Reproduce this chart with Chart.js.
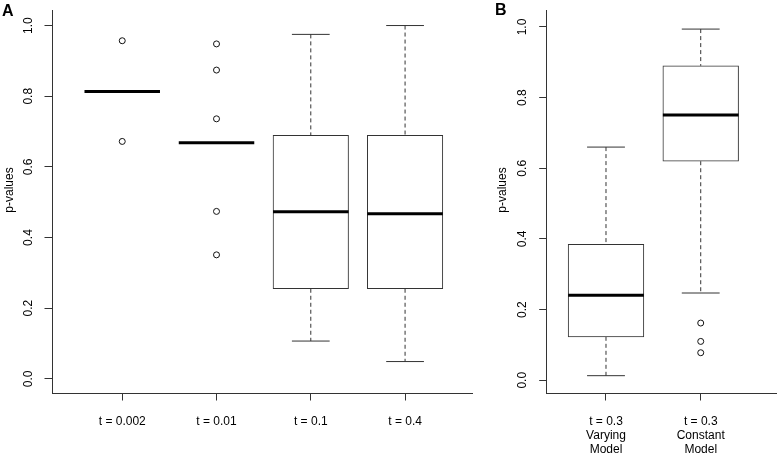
<!DOCTYPE html>
<html>
<head>
<meta charset="utf-8">
<script src="https://cdn.jsdelivr.net/npm/chart.js@4/dist/chart.umd.min.js"></script>
<style>
  body { margin: 0; background: #fff; }
  canvas { position: absolute; top: 0; }
  #chartA { left: 0; }
  #chartB { left: 480px; }
</style>
</head>
<body>
<canvas id="chartA" width="485" height="455"></canvas>
<canvas id="chartB" width="297" height="455"></canvas>
<script>

// panel A
let labelsA = ['t = 0.002', 't = 0.01', 't = 0.1', 't = 0.4']
let lowA = [0.813, 0.668, 0.107, 0.049]
let q1A = [0.813, 0.668, 0.255, 0.255]
let medA = [0.813, 0.668, 0.473, 0.467]
let q3A = [0.813, 0.668, 0.689, 0.689]
let highA = [0.813, 0.668, 0.975, 1.0]
let outA = [[0.957, 0.672], [0.948, 0.874, 0.736, 0.474, 0.351], [], []]

// panel B
let labelsB = [['t = 0.3', 'Varying', 'Model'], ['t = 0.3', 'Constant', 'Model']]
let lowB = [0.013, 0.247]
let q1B = [0.123, 0.620]
let medB = [0.241, 0.751]
let q3B = [0.385, 0.890]
let highB = [0.660, 0.994]
let outB = [[], [0.162, 0.110, 0.078]]

let yTicks = [0, 0.2, 0.4, 0.6, 0.8, 1.0]

let fontFam = '"Liberation Sans", Arial, Helvetica, sans-serif'
let lineCol = '#333'

// letter + y title
let extraText = {
    id: 'extraText',
    afterDraw: function (chart) {
        let o = chart.options.plugins.extraText
        let ctx = chart.ctx
        ctx.save()
        ctx.fillStyle = '#000'
        ctx.font = 'bold 16px ' + fontFam
        ctx.textAlign = 'left'
        ctx.textBaseline = 'alphabetic'
        ctx.fillText(o.letter, o.letterX, o.letterY)
        ctx.font = '12px ' + fontFam
        ctx.translate(o.titleX, 190)
        ctx.rotate(-Math.PI / 2)
        ctx.textAlign = 'center'
        ctx.textBaseline = 'middle'
        ctx.fillText('p-values', 0, 0)
        ctx.restore()
    }
}

function buildBox (id, labels, low, q1, med, q3, high, outl, opt) {

    let xs = labels.map(function (l, i) { return i + 1 })

    let whisk = []
    let outPts = []
    xs.forEach(function (x, i) {
        whisk.push({ x: x, y: high[i] }, { x: x, y: q3[i] }, { x: x, y: null })
        whisk.push({ x: x, y: q1[i] }, { x: x, y: low[i] }, { x: x, y: null })
        outl[i].forEach(function (v) { outPts.push({ x: x, y: v }) })
    })

    let caps = []
    xs.forEach(function (x, i) {
        caps.push({ x: x, y: low[i] }, { x: x, y: high[i] })
    })

    new Chart(document.getElementById(id), {
        type: 'bar',
        data: {
            datasets: [
                {
                    type: 'line',
                    data: whisk,
                    borderColor: lineCol,
                    borderWidth: 1,
                    borderDash: [4, 3],
                    pointRadius: 0,
                    spanGaps: false,
                    order: 5
                },
                {
                    type: 'bar',
                    data: xs.map(function (x, i) { return { x: x, y: [q1[i], q3[i]] } }),
                    backgroundColor: '#fff',
                    borderColor: lineCol,
                    borderWidth: 1,
                    borderSkipped: false,
                    barThickness: opt.boxW,
                    order: 4
                },
                {
                    type: 'scatter',
                    data: caps,
                    pointStyle: 'line',
                    pointRadius: opt.boxW / 4,
                    pointBorderWidth: 1,
                    pointBorderColor: lineCol,
                    order: 3
                },
                {
                    type: 'scatter',
                    data: xs.map(function (x, i) { return { x: x, y: med[i] } }),
                    pointStyle: 'line',
                    pointRadius: opt.boxW / 2,
                    pointBorderWidth: 3,
                    pointBorderColor: '#000',
                    order: 2
                },
                {
                    type: 'scatter',
                    data: outPts,
                    pointStyle: 'circle',
                    pointRadius: 3,
                    pointBorderWidth: 1,
                    pointBorderColor: '#111',
                    pointBackgroundColor: '#fff',
                    order: 1
                }
            ]
        },
        options: {
            responsive: false,
            animation: false,
            events: [],
            layout: { autoPadding: false, padding: { top: 10, bottom: 0, left: opt.padL, right: opt.padR } },
            plugins: {
                legend: { display: false },
                tooltip: { enabled: false },
                extraText: { letter: opt.letter, letterX: opt.letterX, letterY: opt.letterY, titleX: opt.titleX }
            },
            scales: {
                x: {
                    type: 'linear',
                    min: opt.xMin,
                    max: opt.xMax,
                    offset: false,
                    afterBuildTicks: function (s) { s.ticks = xs.map(function (v) { return { value: v } }) },
                    afterFit: function (s) { s.height = 62; s.paddingLeft = 0; s.paddingRight = 0 },
                    border: { display: true, color: lineCol, width: 1 },
                    grid: { display: true, offset: false, drawOnChartArea: false, drawTicks: true, tickLength: 7.5, color: lineCol },
                    ticks: {
                        color: '#000',
                        padding: 14,
                        maxRotation: 0,
                        autoSkip: false,
                        font: { family: fontFam, size: 12, lineHeight: '14px' },
                        callback: function (v, i) { return labels[i] }
                    }
                },
                y: {
                    type: 'linear',
                    min: opt.yMin,
                    max: opt.yMax,
                    afterBuildTicks: function (s) { s.ticks = yTicks.map(function (v) { return { value: v } }) },
                    afterFit: function (s) { s.width = 52; s.paddingTop = 0; s.paddingBottom = 0 },
                    border: { display: true, color: lineCol, width: 1 },
                    grid: { display: true, drawOnChartArea: false, drawTicks: true, tickLength: 7.5, color: lineCol },
                    ticks: {
                        color: '#000',
                        padding: opt.tickPad,
                        minRotation: 90,
                        maxRotation: 90,
                        crossAlign: 'center',
                        font: { family: fontFam, size: 12 },
                        callback: function (v) { return v.toFixed(1) }
                    }
                }
            }
        },
        plugins: [extraText]
    })
}

buildBox('chartA', labelsA, lowA, q1A, medA, q3A, highA, outA, {
    boxW: 75.5, xMin: 0.255, xMax: 4.71, yMin: -0.04, yMax: 1.044,
    padL: 0, padR: 13, tickPad: 7, letter: 'A', letterX: 2, letterY: 16, titleX: 9.5
})

buildBox('chartB', labelsB, lowB, q1B, medB, q3B, highB, outB, {
    boxW: 75.7, xMin: 0.374, xMax: 2.80, yMin: -0.036, yMax: 1.048,
    padL: 14.7, padR: 0.5, tickPad: 8.5, letter: 'B', letterX: 15, letterY: 15, titleX: 23
})

</script>
</body>
</html>
